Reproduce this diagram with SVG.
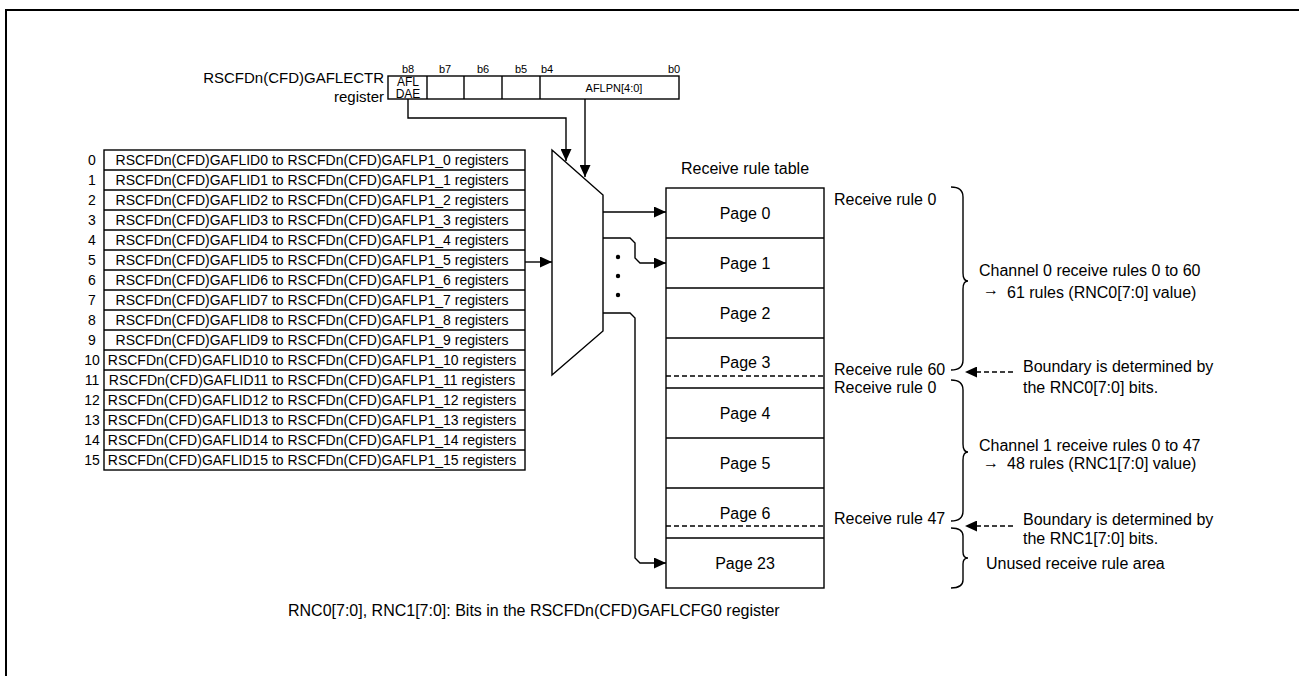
<svg xmlns="http://www.w3.org/2000/svg" width="1299" height="676" viewBox="0 0 1299 676">
<style>
text{font-family:"Liberation Sans",Arial,sans-serif;fill:#000}
.s11{font-size:11px}
.s12{font-size:12px}
.s14{font-size:14px}
.s15{font-size:15px}
.s16{font-size:16px}
.mid{text-anchor:middle}
.end{text-anchor:end}
.ln{fill:none;stroke:#000;stroke-width:1.4}
.box{fill:#fff;stroke:#000;stroke-width:1.4}
.dash{fill:none;stroke:#000;stroke-width:1.4;stroke-dasharray:5 3}
</style>
<defs>
<marker id="ah" viewBox="0 0 12 11" refX="12" refY="5.5" markerWidth="12" markerHeight="11" markerUnits="userSpaceOnUse" orient="auto">
<path d="M0,0 L12,5.5 L0,11 z" fill="#000"/>
</marker>
</defs>
<rect width="1299" height="676" fill="#fff"/>
<path d="M6,676 V10 H1299" fill="none" stroke="#000" stroke-width="2"/>

<g id="register">
<text class="s15 end" x="384" y="83">RSCFDn(CFD)GAFLECTR</text>
<text class="s15 end" x="384" y="102">register</text>
<rect class="box" x="388" y="76" width="291" height="23"/>
<path class="ln" d="M427,76 V99 M464,76 V99 M502,76 V99 M540,76 V99"/>
<text class="s11 mid" x="408" y="73">b8</text>
<text class="s11 mid" x="445" y="73">b7</text>
<text class="s11 mid" x="483" y="73">b6</text>
<text class="s11 mid" x="521" y="73">b5</text>
<text class="s11 mid" x="547" y="73">b4</text>
<text class="s11 mid" x="674" y="73">b0</text>
<text class="s12 mid" x="408" y="86">AFL</text>
<text class="s12 mid" x="408" y="98">DAE</text>
<text class="s11 mid" x="614" y="92">AFLPN[4:0]</text>
</g>

<g id="rule-list">
<rect class="box" x="104" y="150" width="421" height="320"/>
<path class="ln" d="M104,170 H525 M104,190 H525 M104,210 H525 M104,230 H525 M104,250 H525 M104,270 H525 M104,290 H525 M104,310 H525 M104,330 H525 M104,350 H525 M104,370 H525 M104,390 H525 M104,410 H525 M104,430 H525 M104,450 H525"/>
<g class="s14">
<text class="mid" x="92" y="165">0</text><text class="mid" x="312" y="165">RSCFDn(CFD)GAFLID0 to RSCFDn(CFD)GAFLP1_0 registers</text>
<text class="mid" x="92" y="185">1</text><text class="mid" x="312" y="185">RSCFDn(CFD)GAFLID1 to RSCFDn(CFD)GAFLP1_1 registers</text>
<text class="mid" x="92" y="205">2</text><text class="mid" x="312" y="205">RSCFDn(CFD)GAFLID2 to RSCFDn(CFD)GAFLP1_2 registers</text>
<text class="mid" x="92" y="225">3</text><text class="mid" x="312" y="225">RSCFDn(CFD)GAFLID3 to RSCFDn(CFD)GAFLP1_3 registers</text>
<text class="mid" x="92" y="245">4</text><text class="mid" x="312" y="245">RSCFDn(CFD)GAFLID4 to RSCFDn(CFD)GAFLP1_4 registers</text>
<text class="mid" x="92" y="265">5</text><text class="mid" x="312" y="265">RSCFDn(CFD)GAFLID5 to RSCFDn(CFD)GAFLP1_5 registers</text>
<text class="mid" x="92" y="285">6</text><text class="mid" x="312" y="285">RSCFDn(CFD)GAFLID6 to RSCFDn(CFD)GAFLP1_6 registers</text>
<text class="mid" x="92" y="305">7</text><text class="mid" x="312" y="305">RSCFDn(CFD)GAFLID7 to RSCFDn(CFD)GAFLP1_7 registers</text>
<text class="mid" x="92" y="325">8</text><text class="mid" x="312" y="325">RSCFDn(CFD)GAFLID8 to RSCFDn(CFD)GAFLP1_8 registers</text>
<text class="mid" x="92" y="345">9</text><text class="mid" x="312" y="345">RSCFDn(CFD)GAFLID9 to RSCFDn(CFD)GAFLP1_9 registers</text>
<text class="mid" x="92" y="365">10</text><text class="mid" x="312" y="365">RSCFDn(CFD)GAFLID10 to RSCFDn(CFD)GAFLP1_10 registers</text>
<text class="mid" x="92" y="385">11</text><text class="mid" x="312" y="385">RSCFDn(CFD)GAFLID11 to RSCFDn(CFD)GAFLP1_11 registers</text>
<text class="mid" x="92" y="405">12</text><text class="mid" x="312" y="405">RSCFDn(CFD)GAFLID12 to RSCFDn(CFD)GAFLP1_12 registers</text>
<text class="mid" x="92" y="425">13</text><text class="mid" x="312" y="425">RSCFDn(CFD)GAFLID13 to RSCFDn(CFD)GAFLP1_13 registers</text>
<text class="mid" x="92" y="445">14</text><text class="mid" x="312" y="445">RSCFDn(CFD)GAFLID14 to RSCFDn(CFD)GAFLP1_14 registers</text>
<text class="mid" x="92" y="465">15</text><text class="mid" x="312" y="465">RSCFDn(CFD)GAFLID15 to RSCFDn(CFD)GAFLP1_15 registers</text>
</g>
</g>

<g id="mux">
<polygon class="box" points="552,150 603,195 603,331 552,375"/>
</g>

<g id="dots">
<circle cx="618" cy="257" r="2.2"/>
<circle cx="618" cy="276" r="2.2"/>
<circle cx="618" cy="295" r="2.2"/>
</g>

<g id="rule-table">
<text class="s16 mid" x="745" y="174">Receive rule table</text>
<rect class="box" x="666" y="188" width="158" height="400"/>
<path class="ln" d="M666,238 H824 M666,288 H824 M666,338 H824 M666,388 H824 M666,438 H824 M666,488 H824 M666,538 H824"/>
<path class="dash" d="M666,376 H824 M666,526 H824"/>
<g class="s16">
<text class="mid" x="745" y="218.5">Page 0</text>
<text class="mid" x="745" y="268.5">Page 1</text>
<text class="mid" x="745" y="318.5">Page 2</text>
<text class="mid" x="745" y="367.5">Page 3</text>
<text class="mid" x="745" y="418.5">Page 4</text>
<text class="mid" x="745" y="468.5">Page 5</text>
<text class="mid" x="745" y="518.5">Page 6</text>
<text class="mid" x="745" y="568.5">Page 23</text>
</g>
</g>

<g id="connectors">
<path class="ln" d="M408,99 V118 H566 V161" marker-end="url(#ah)"/>
<path class="ln" d="M585,99 V177" marker-end="url(#ah)"/>
<path class="ln" d="M525,262 H552" marker-end="url(#ah)"/>
<path class="ln" d="M603,212 H666" marker-end="url(#ah)"/>
<path class="ln" d="M603,238 H630 L635,243 V258 L640,263 H666" marker-end="url(#ah)"/>
<path class="ln" d="M603,313 H630 L635,318 V558 L640,563 H666" marker-end="url(#ah)"/>
<path class="dash" d="M1013,372 H965" marker-end="url(#ah)"/>
<path class="dash" d="M1013,526 H965" marker-end="url(#ah)"/>
</g>

<g id="braces">
<path class="ln" d="M951,187 Q963,187 963,197 V273 Q963,281 968,281 Q963,281 963,289 V360 Q963,370 951,370"/>
<path class="ln" d="M951,380 Q963,380 963,390 V444 Q963,452 968,452 Q963,452 963,460 V511 Q963,521 951,521"/>
<path class="ln" d="M951,528 Q963,528 963,536 V552 Q963,558 968,558 Q963,558 963,564 V580 Q963,588 951,588"/>
</g>

<g id="annotations" class="s16">
<text x="834" y="205">Receive rule 0</text>
<text x="834" y="375">Receive rule 60</text>
<text x="834" y="393">Receive rule 0</text>
<text x="834" y="524">Receive rule 47</text>
<text x="979" y="276">Channel 0 receive rules 0 to 60</text>
<text x="983" y="295">→</text>
<text x="1007" y="298">61 rules (RNC0[7:0] value)</text>
<text x="1023" y="371.5">Boundary is determined by</text>
<text x="1023" y="393">the RNC0[7:0] bits.</text>
<text x="979" y="450.5">Channel 1 receive rules 0 to 47</text>
<text x="983" y="468">→</text>
<text x="1007" y="469">48 rules (RNC1[7:0] value)</text>
<text x="1023" y="525">Boundary is determined by</text>
<text x="1023" y="544">the RNC1[7:0] bits.</text>
<text x="986" y="569">Unused receive rule area</text>
</g>

<g id="note">
<text class="s16" x="288" y="616">RNC0[7:0], RNC1[7:0]: Bits in the RSCFDn(CFD)GAFLCFG0 register</text>
</g>
</svg>
